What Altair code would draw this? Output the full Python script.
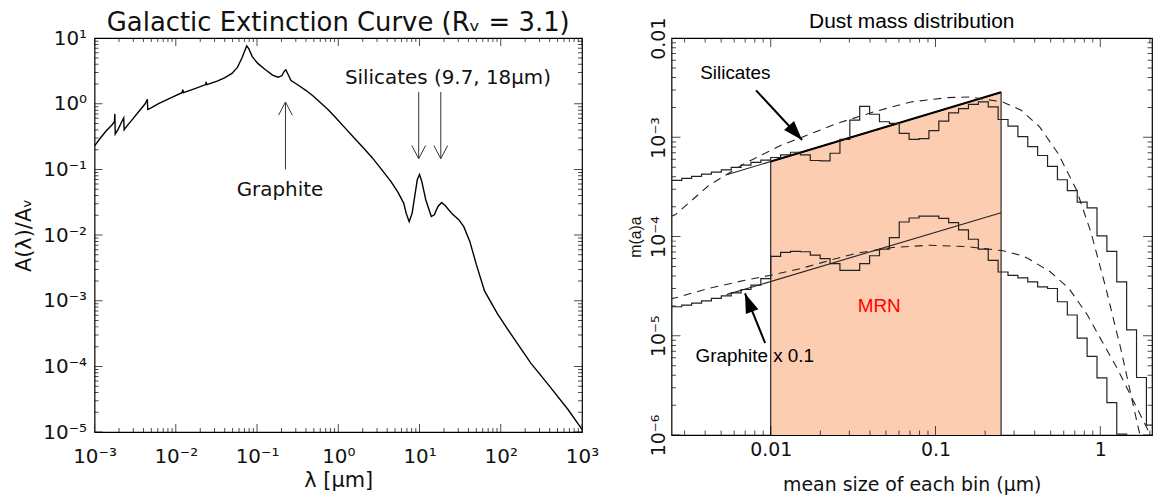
import altair as alt
import numpy as np
import pandas as pd

# ---------------- Left panel: Galactic extinction curve (log10 values) ----------------
lam_log = [-3.000, -2.923, -2.855, -2.786, -2.755, -2.750, -2.745, -2.709, -2.673, -2.641,
           -2.636, -2.605, -2.536, -2.445, -2.377, -2.350, -2.345, -2.309, -2.218, -2.082,
           -1.923, -1.914, -1.905, -1.764, -1.632, -1.627, -1.618, -1.491, -1.400, -1.309,
           -1.241, -1.182, -1.150, -1.127, -1.100, -1.059, -0.991, -0.900, -0.809, -0.741,
           -0.695, -0.664, -0.645, -0.623, -0.582, -0.491, -0.400, -0.309, -0.218, -0.127,
           -0.036, 0.077, 0.191, 0.305, 0.418, 0.532, 0.645, 0.736, 0.805, 0.836,
           0.873, 0.909, 0.941, 0.973, 1.000, 1.027, 1.077, 1.145, 1.182, 1.227,
           1.273, 1.318, 1.395, 1.486, 1.545, 1.620, 1.700, 1.800, 1.960, 2.170,
           2.370, 2.600, 2.830, 3.000]
ext_log = [-0.641, -0.513, -0.410, -0.323, -0.272, -0.154, -0.462, -0.385, -0.292, -0.215,
           -0.395, -0.344, -0.241, -0.103, 0.000, 0.067, -0.087, -0.067, 0.000, 0.077,
           0.169, 0.215, 0.169, 0.231, 0.292, 0.333, 0.292, 0.344, 0.395, 0.462,
           0.554, 0.708, 0.810, 0.882, 0.836, 0.718, 0.615, 0.523, 0.436, 0.405,
           0.426, 0.497, 0.518, 0.462, 0.354, 0.282, 0.205, 0.118, 0.015, -0.087,
           -0.205, -0.359, -0.513, -0.667, -0.821, -1.000, -1.179, -1.349, -1.513, -1.667,
           -1.795, -1.667, -1.410, -1.154, -1.077, -1.179, -1.462, -1.718, -1.692, -1.564,
           -1.503, -1.554, -1.667, -1.769, -1.872, -2.100, -2.450, -2.850, -3.200, -3.590,
           -3.950, -4.300, -4.660, -4.960]

left_x_ticks = [1e-3, 1e-2, 1e-1, 1e0, 1e1, 1e2, 1e3]
left_y_ticks = [1e-5, 1e-4, 1e-3, 1e-2, 1e-1, 1e0, 1e1]
left_title = "Galactic Extinction Curve (Rᵥ = 3.1)"

# annotation arrows (log10 lambda, log10 A): x, tail, tip
graphite_arrow = (-0.650, -1.000, 0.026)
silicate_arrows = [(0.990, 0.180, -0.836), (1.262, 0.180, -0.836)]
left_labels = ["Graphite", "Silicates (9.7, 18μm)"]
left_label_x = [-0.718, 1.350]
left_label_y = [-1.310, 0.395]

# ---------------- Right panel: dust mass distribution ----------------
bin_start_log, bin_width_log = -2.6, 0.06
sil_hist_log = [-3.433, -3.413, -3.393, -3.370, -3.350, -3.327, -3.303, -3.280, -3.253, -3.230,
                -3.203, -3.177, -3.150, -3.177, -3.233, -3.237, -3.160, -3.020, -2.827, -2.687,
                -2.767, -2.843, -2.860, -2.960, -3.020, -3.013, -2.933, -2.837, -2.753, -2.710,
                -2.667, -2.643, -2.693, -2.820, -2.887, -2.993, -3.093, -3.183, -3.293, -3.427,
                -3.537, -3.653, -3.710, -3.993, -4.150, -4.457, -4.940, -5.420, -5.900]
gra_hist_log = [-4.707, -4.690, -4.670, -4.647, -4.623, -4.597, -4.567, -4.533, -4.490, -4.423,
                -4.200, -4.160, -4.150, -4.153, -4.187, -4.223, -4.273, -4.340, -4.340, -4.273,
                -4.193, -4.127, -4.010, -3.853, -3.813, -3.793, -3.793, -3.817, -3.860, -3.933,
                -4.027, -4.127, -4.240, -4.357, -4.390, -4.417, -4.457, -4.507, -4.523, -4.657,
                -4.790, -5.023, -5.207, -5.423, -5.673, -5.990, -6.400, -6.800, -7.200]

sil_dash_a = [-2.610, -2.577, -2.380, -2.156, -1.933, -1.777, -1.598, -1.374, -1.150, -0.927,
              -0.793, -0.592, -0.480, -0.369, -0.257, -0.145, -0.056, 0.034, 0.078, 0.123,
              0.168, 0.212, 0.235, 0.260]
sil_dash_m = [-3.800, -3.777, -3.490, -3.260, -3.077, -2.977, -2.860, -2.743, -2.643, -2.600,
              -2.593, -2.643, -2.727, -2.893, -3.160, -3.527, -3.960, -4.520, -4.820, -5.120,
              -5.457, -5.790, -5.957, -6.100]
gra_dash_a = [-2.610, -2.577, -2.380, -2.156, -2.000, -1.820, -1.600, -1.486, -1.260, -1.040,
              -0.816, -0.590, -0.480, -0.436, -0.302, -0.190, -0.078, 0.011, 0.100, 0.190,
              0.280, 0.320]
gra_dash_m = [-4.630, -4.617, -4.523, -4.440, -4.390, -4.323, -4.220, -4.170, -4.110, -4.087,
              -4.100, -4.143, -4.190, -4.223, -4.357, -4.523, -4.790, -5.057, -5.320, -5.620,
              -5.920, -6.050]

# MRN power laws (a in micron, m(a)a)
sil_line_a = [0.0054, 0.25]
sil_line_m = [4.2e-4, 2.85e-3]
mrn_a = [0.01, 0.25]
mrn_m = [5.7e-4, 2.85e-3]
gra_line_a = [0.0054, 0.25]
gra_line_m = [2.6e-5, 1.74e-4]

right_x_ticks = [0.01, 0.1, 1]
right_y_ticks = [1e-6, 1e-5, 1e-4, 1e-3, 1e-2]
right_title = "Dust mass distribution"

# annotations (a, m): tail, tip
sil_arrow_a = [0.00815, 0.0155]
sil_arrow_m = [2.97e-3, 9.4e-4]
gra_arrow_a = [0.00925, 0.00698]
gra_arrow_m = [8.45e-6, 2.67e-5]
right_labels = ["Silicates", "Graphite x 0.1", "MRN"]
right_label_a = [0.0061, 0.0080, 0.0455]
right_label_m = [4.4e-3, 6.2e-6, 2.0e-5]

# ---------------- styling ----------------
F1 = "'DejaVu Sans ExtraLight', 'DejaVu Sans', sans-serif"
F2 = "Liberation Sans"
W1, H1 = 490, 396
W2, H2 = 483, 399

expr = "'' + round(log(datum.value) / LN10)"
for a, b in [("-", "⁻"), ("0", "⁰"), ("1", "¹"), ("2", "²"), ("3", "³"),
             ("4", "⁴"), ("5", "⁵"), ("6", "⁶")]:
    expr = f"replace({expr}, '{a}', '{b}')"
SUP = "'10' + " + expr


def minor_ticks(lo, hi, dmin, dmax):
    out = []
    for e in range(lo, hi + 1):
        for m in range(2, 10):
            v = m * 10.0 ** e
            if dmin < v < dmax:
                out.append(v)
    return out


# ================= scales & axes =================
xs1 = alt.Scale(type="log", domain=[1e-3, 1e3], nice=False)
ys1 = alt.Scale(type="log", domain=[1e-5, 1e1], nice=False)
xs2 = alt.Scale(type="log", domain=[0.0025, 2.06], nice=False)
ys2 = alt.Scale(type="log", domain=[1e-6, 1e-2], nice=False)

ax_x1 = alt.Axis(values=left_x_ticks, labelExpr=SUP, ticks=False, domain=False, grid=False,
                 labelFont=F1, labelFontSize=20, labelColor="#111", labelPadding=15,
                 labelOverlap=False, labelFlush=False,
                 title="λ [μm]", titleFont=F1, titleFontSize=21, titleFontWeight="normal",
                 titleColor="#111", titlePadding=3)
ax_y1 = alt.Axis(values=left_y_ticks, labelExpr=SUP, ticks=False, domain=False, grid=False,
                 labelFont=F1, labelFontSize=20, labelColor="#111", labelPadding=8,
                 labelOverlap=False, labelFlush=False,
                 title="A(λ)/Aᵥ", titleFont=F1, titleFontSize=21, titleFontWeight="normal",
                 titleColor="#111", titlePadding=8)
ax_x2 = alt.Axis(values=right_x_ticks,
                 labelExpr="datum.value < 0.05 ? '0.01' : (datum.value < 0.5 ? '0.1' : '1')",
                 ticks=False, domain=False, grid=False, labelFont=F1, labelFontSize=19,
                 labelColor="#111", labelPadding=6, labelOverlap=False, labelFlush=False,
                 title="mean size of each bin (μm)", titleFont=F1, titleFontSize=19,
                 titleFontWeight="normal", titleColor="#111", titlePadding=16)
ax_y2 = alt.Axis(values=right_y_ticks,
                 labelExpr="datum.value > 0.005 ? '0.01' : " + SUP,
                 ticks=False, domain=False, grid=False, labelFont=F1, labelFontSize=19,
                 labelColor="#111", labelPadding=3, labelAngle=-90, labelAlign="center",
                 labelBaseline="bottom", labelOverlap=False, labelFlush=False,
                 title="m(a)a", titleFont=F2, titleFontSize=16, titleFontWeight="normal",
                 titleColor="#111", titlePadding=6)


def X1(f):
    return alt.X(f, scale=xs1, axis=ax_x1)


def Y1(f):
    return alt.Y(f, scale=ys1, axis=ax_y1)


def X2(f):
    return alt.X(f, scale=xs2, axis=ax_x2)


def Y2(f):
    return alt.Y(f, scale=ys2, axis=ax_y2)


def frame_ticks(X, Y, xmaj, xmin, ymaj, ymin, W, H, major, minor):
    xdf = pd.DataFrame({"v": list(xmaj) + list(xmin),
                        "s": [2 * major] * len(xmaj) + [2 * minor] * len(xmin)})
    ydf = pd.DataFrame({"v": list(ymaj) + list(ymin),
                        "s": [2 * major] * len(ymaj) + [2 * minor] * len(ymin)})
    layers = []
    for yv in (0, H):
        layers.append(alt.Chart(xdf).mark_tick(orient="vertical", clip=True, color="black",
                                                thickness=1).encode(
            x=X("v:Q"), y=alt.value(yv), size=alt.Size("s:Q", scale=None, legend=None)))
    for xv in (0, W):
        layers.append(alt.Chart(ydf).mark_tick(orient="horizontal", clip=True, color="black",
                                                thickness=1).encode(
            y=Y("v:Q"), x=alt.value(xv), size=alt.Size("s:Q", scale=None, legend=None)))
    return layers


def title_mark(text, W, font, size, color, dy):
    return alt.Chart(pd.DataFrame({"t": [text]})).mark_text(
        font=font, fontSize=size, color=color, baseline="middle", align="center").encode(
        x=alt.value(W / 2), y=alt.value(dy), text="t:N")


# ================= LEFT =================
left_df = pd.DataFrame({"lam": 10 ** np.array(lam_log), "A": 10 ** np.array(ext_log),
                        "i": np.arange(len(lam_log))})
curve = alt.Chart(left_df).mark_line(color="black", strokeWidth=1.4, clip=True).encode(
    x=X1("lam:Q"), y=Y1("A:Q"), order="i:Q")

arr_rows = []
gid = 0
for (xl, tail, tip) in [graphite_arrow] + silicate_arrows:
    up = tip > tail
    head_back = tip - 0.2 if up else tip + 0.2
    arr_rows += [(gid, 0, 10 ** xl, 10 ** tail), (gid, 1, 10 ** xl, 10 ** tip)]
    gid += 1
    arr_rows += [(gid, 0, 10 ** (xl - 0.085), 10 ** head_back), (gid, 1, 10 ** xl, 10 ** tip),
                 (gid, 2, 10 ** (xl + 0.085), 10 ** head_back)]
    gid += 1
arr_df = pd.DataFrame(arr_rows, columns=["g", "o", "x", "y"])
left_arrows = alt.Chart(arr_df).mark_line(color="#333", strokeWidth=1).encode(
    x=X1("x:Q"), y=Y1("y:Q"), detail="g:N", order="o:Q")

ltxt_df = pd.DataFrame({"t": left_labels, "x": 10 ** np.array(left_label_x),
                        "y": 10 ** np.array(left_label_y)})
left_text = alt.Chart(ltxt_df).mark_text(font=F1, fontSize=20, color="#111").encode(
    x=X1("x:Q"), y=Y1("y:Q"), text="t:N")

left_ticks = frame_ticks(X1, Y1, left_x_ticks, minor_ticks(-3, 2, 1e-3, 1e3),
                         left_y_ticks, minor_ticks(-5, 0, 1e-5, 1e1), W1, H1, 8, 4)

left = alt.layer(curve, left_arrows, left_text, *left_ticks,
                 title_mark(left_title, W1, F1, 26, "#111", -15)).properties(width=W1, height=H1)

# ================= RIGHT =================
mrn_df = pd.DataFrame({"a": mrn_a, "m": mrn_m, "b": [1e-6, 1e-6]})
mrn_fill = alt.Chart(mrn_df).mark_area(color="#FCCDB1", opacity=1, clip=True).encode(
    x=X2("a:Q"), y=Y2("m:Q"), y2="b:Q")
mrn_edges = alt.Chart(mrn_df).mark_rule(color="black", strokeWidth=1).encode(
    x=X2("a:Q"), y=Y2("m:Q"), y2="b:Q")

lines_df = pd.DataFrame({"a": sil_line_a + gra_line_a, "m": sil_line_m + gra_line_m,
                         "g": ["s", "s", "g", "g"]})
pl_lines = alt.Chart(lines_df).mark_line(color="#222", strokeWidth=1.1).encode(
    x=X2("a:Q"), y=Y2("m:Q"), detail="g:N")
mrn_top = alt.Chart(mrn_df).mark_line(color="black", strokeWidth=2).encode(
    x=X2("a:Q"), y=Y2("m:Q"))

edges = bin_start_log + bin_width_log * np.arange(len(sil_hist_log) + 1)
hist_rows = []
for name, vals in (("sil", sil_hist_log), ("gra", gra_hist_log)):
    vv = list(vals) + [vals[-1]]
    for j, (e, v) in enumerate(zip(edges, vv)):
        hist_rows.append((name, j, 10 ** e, 10 ** v))
hist_df = pd.DataFrame(hist_rows, columns=["g", "o", "a", "m"])
hist = alt.Chart(hist_df).mark_line(color="#222", strokeWidth=1.2, interpolate="step-after",
                                    clip=True).encode(
    x=X2("a:Q"), y=Y2("m:Q"), detail="g:N", order="o:Q")

dash_rows = [("s", j, 10 ** a, 10 ** m) for j, (a, m) in enumerate(zip(sil_dash_a, sil_dash_m))]
dash_rows += [("g", j, 10 ** a, 10 ** m) for j, (a, m) in enumerate(zip(gra_dash_a, gra_dash_m))]
dash_df = pd.DataFrame(dash_rows, columns=["g", "o", "a", "m"])
dashed = alt.Chart(dash_df).mark_line(color="#222", strokeWidth=1.1, strokeDash=[8, 6],
                                      clip=True).encode(
    x=X2("a:Q"), y=Y2("m:Q"), detail="g:N", order="o:Q")

rarr_df = pd.DataFrame({"a": sil_arrow_a + gra_arrow_a, "m": sil_arrow_m + gra_arrow_m,
                        "g": ["s", "s", "g", "g"]})
rarrows = alt.Chart(rarr_df).mark_line(color="black", strokeWidth=2).encode(
    x=X2("a:Q"), y=Y2("m:Q"), detail="g:N")
HEAD = "M0,0L-0.55,1.6L0.55,1.6Z"
head_df = pd.DataFrame({"a": [sil_arrow_a[1], gra_arrow_a[1]], "m": [sil_arrow_m[1], gra_arrow_m[1]],
                        "ang": [138.0, 338.6]})
heads = alt.Chart(head_df).mark_point(shape=HEAD, filled=True, color="black", size=600,
                                      opacity=1, strokeWidth=0).encode(
    x=X2("a:Q"), y=Y2("m:Q"), angle=alt.Angle("ang:Q", scale=None))

rtxt_df = pd.DataFrame({"t": right_labels, "a": right_label_a, "m": right_label_m,
                        "c": ["black", "black", "red"]})
right_text = alt.Chart(rtxt_df).mark_text(font=F2, fontSize=19).encode(
    x=X2("a:Q"), y=Y2("m:Q"), text="t:N", color=alt.Color("c:N", scale=None))

right_ticks = frame_ticks(X2, Y2, right_x_ticks, minor_ticks(-3, 0, 0.0025, 2.06),
                          right_y_ticks, minor_ticks(-6, -3, 1e-6, 1e-2), W2, H2, 9, 4.5)

right = alt.layer(mrn_fill, mrn_edges, pl_lines, mrn_top, hist, dashed, rarrows, heads,
                  right_text, *right_ticks,
                  title_mark(right_title, W2, F2, 21, "black", -16)).properties(width=W2, height=H2)

chart = alt.hconcat(left, right, spacing=90, bounds="flush").properties(
    padding={"left": 5, "top": 0, "right": 0, "bottom": 0}).configure_view(
    stroke="black", strokeWidth=1.2)

chart.save("out.html", embed_options={"renderer": "svg", "actions": False})
